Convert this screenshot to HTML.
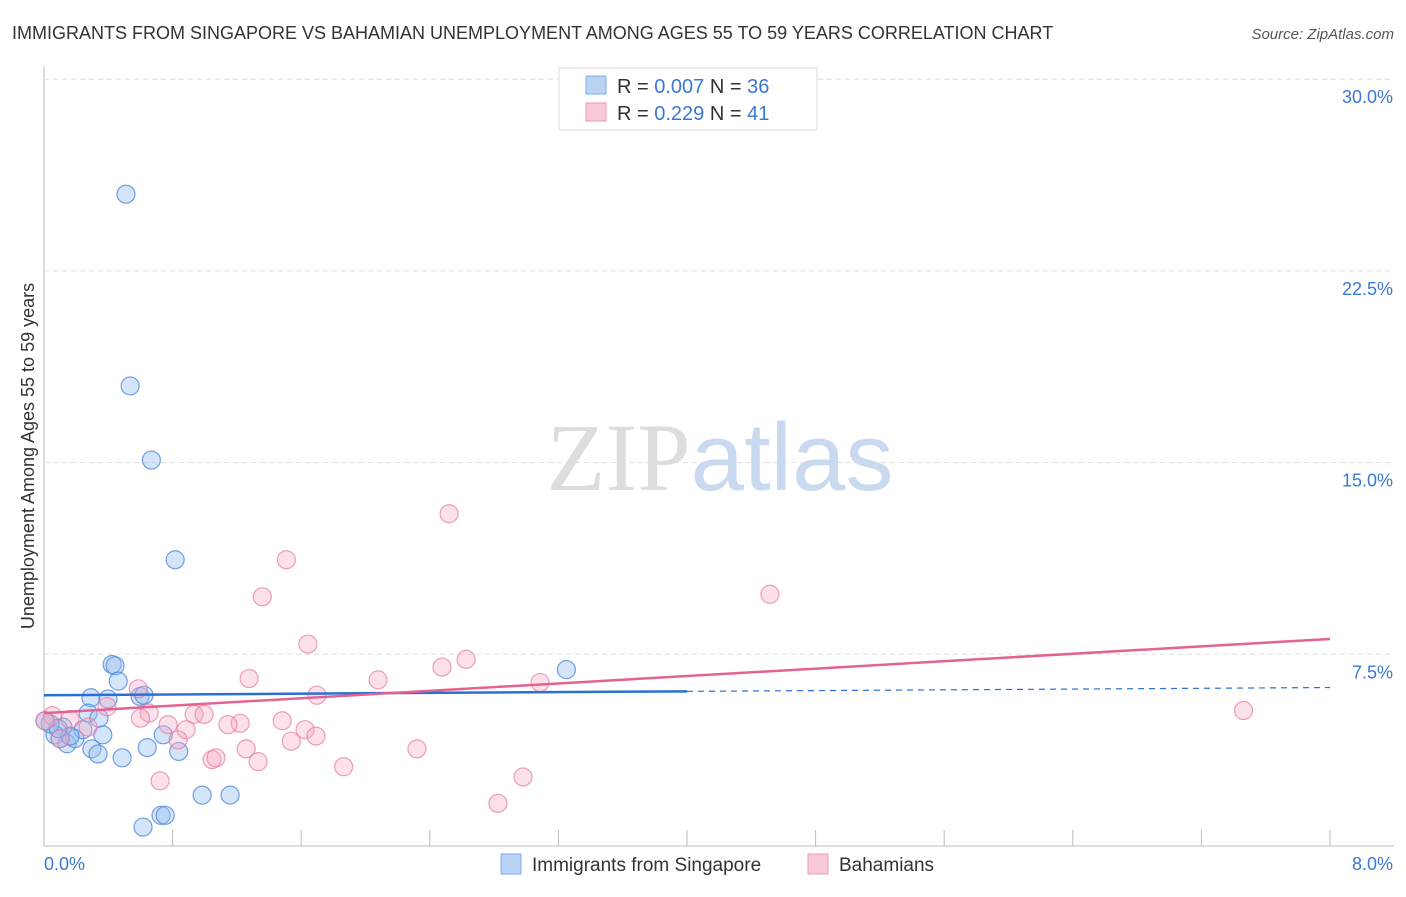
<!DOCTYPE html>
<html><head><meta charset="utf-8"><style>
body{margin:0;background:#fff;font-family:"Liberation Sans",sans-serif;}
svg text{font-family:"Liberation Sans",sans-serif;}
</style></head><body>
<svg id="chart" width="1406" height="892" xmlns="http://www.w3.org/2000/svg">
<text x="12" y="39" font-size="18" fill="#333">IMMIGRANTS FROM SINGAPORE VS BAHAMIAN UNEMPLOYMENT AMONG AGES 55 TO 59 YEARS CORRELATION CHART</text>
<text x="1394" y="39" font-size="15" fill="#555" text-anchor="end" font-style="italic">Source: ZipAtlas.com</text>
<g id="grid"></g>
<text x="720" y="490" font-size="96" text-anchor="middle"><tspan fill="#ddd" font-family="Liberation Serif">ZIP</tspan><tspan fill="#c9d9f0">atlas</tspan></text>
<g id="marks"></g>
<text transform="translate(34,456) rotate(-90)" font-size="18" fill="#333" text-anchor="middle">Unemployment Among Ages 55 to 59 years</text>
<g>
<rect x="559" y="68" width="258" height="62" fill="#fff" stroke="#ddd"/>
<rect x="586" y="76" width="20" height="18" fill="#b8d3f5" stroke="#7eaee8"/>
<text x="617" y="93" font-size="20" fill="#333">R = <tspan fill="#3b78d4">0.007</tspan>   N = <tspan fill="#3b78d4">36</tspan></text>
<rect x="586" y="103" width="20" height="18" fill="#f9c9d7" stroke="#ef9ab5"/>
<text x="617" y="120" font-size="20" fill="#333">R =  <tspan fill="#3b78d4">0.229</tspan>   N =  <tspan fill="#3b78d4">41</tspan></text>
</g>
<g>
<rect x="501" y="854" width="20" height="20" fill="#b8d3f5" stroke="#7eaee8"/>
<text x="532" y="871" font-size="19" fill="#333">Immigrants from Singapore</text>
<rect x="808" y="854" width="20" height="20" fill="#f9c9d7" stroke="#ef9ab5"/>
<text x="839" y="871" font-size="19" fill="#333">Bahamians</text>
</g>
</svg>
<script>
const xTickLabels=["0.0%","8.0%"];
const yTicks=[7.5,15,22.5,30];
const yTickLabels=["7.5%","15.0%","22.5%","30.0%"];
const singX=[2.55,2.68,3.34,4.08,2.12,2.21,16.25,2.31,1.46,2.99,3.11,1.99,1.37,1.71,0.59,0.34,0.19,0.72,0.96,1.49,1.68,2.43,1.83,3.21,3.71,4.19,3.08,3.64,3.77,4.92,5.79,1.21,0.5,0.03,0.81,0.44];
const singY=[25.5,18.0,15.1,11.2,7.1,7.05,6.9,6.45,5.8,5.85,5.9,5.75,5.2,5.0,4.65,4.35,4.78,4.0,4.2,3.8,3.6,3.45,4.35,3.85,4.35,3.7,0.74,1.2,1.2,1.99,1.99,4.55,4.2,4.9,4.3,4.6];
const bahX=[12.6,7.54,6.79,22.58,8.21,13.13,12.38,6.38,10.39,15.43,8.49,37.31,2.93,1.96,3.27,4.67,4.98,6.1,5.72,3.86,7.41,8.12,8.46,4.42,3.0,4.17,6.29,5.23,5.35,6.66,7.69,11.6,9.32,14.9,14.12,3.61,0.26,1.37,0.5,0.03,0.81];
const bahY=[13.0,11.2,9.75,9.85,7.9,7.3,7.0,6.55,6.5,6.4,5.9,5.3,6.15,5.45,5.2,5.15,5.15,4.8,4.75,4.75,4.9,4.55,4.3,4.55,5.0,4.15,3.8,3.38,3.45,3.3,4.1,3.8,3.1,2.7,1.67,2.55,5.1,4.65,4.2,4.9,4.95];
const singTrend=[0.0,5.9,20.0,6.05,40.0,6.2];
const bahTrend=[0.0,5.2,40.0,8.1];
const X0=44,X1=1330,Y0=846,YPER=191.7/7.5;
function sx(v){return X0+(v/40)*(X1-X0);}
function sy(v){return Y0-v*YPER;}
const NS="http://www.w3.org/2000/svg";
const grid=document.getElementById('grid'),marks=document.getElementById('marks');
function mk(tag,attrs,parent){const e=document.createElementNS(NS,tag);for(const k in attrs)e.setAttribute(k,attrs[k]);parent.appendChild(e);return e;}
const ya=mk('line',{x1:X0,y1:67,x2:X0,y2:846,stroke:'#bbb'},grid);


const xa=mk('line',{x1:X0,y1:846,x2:1394,y2:846,stroke:'#bbb'},grid);


for(let i=1;i<=10;i++){const x=X0+i*(X1-X0)/10;const t=mk('line',{x1:x,y1:830,x2:x,y2:846,stroke:'#bbb'},grid);

}
yTicks.forEach((v,i)=>{const y=sy(v);const g=mk('line',{x1:X0,y1:y,x2:1394,y2:y,stroke:'#ddd','stroke-dasharray':'5,4'},grid);


const t=mk('text',{x:1393,y:y+24,'font-size':18,fill:'#3b78d4','text-anchor':'end'},grid);t.textContent=yTickLabels[i];

});
const xl0=mk('text',{x:44,y:870,'font-size':18,fill:'#3b78d4'},grid);xl0.textContent=xTickLabels[0];


const xl1=mk('text',{x:1393,y:870,'font-size':18,fill:'#3b78d4','text-anchor':'end'},grid);xl1.textContent=xTickLabels[1];


singX.forEach((v,i)=>{const c=mk('circle',{cx:sx(v),cy:sy(singY[i]),r:9,fill:'rgba(150,190,240,0.4)',stroke:'rgba(70,130,220,0.75)','stroke-width':1.2},marks);

});
bahX.forEach((v,i)=>{const c=mk('circle',{cx:sx(v),cy:sy(bahY[i]),r:9,fill:'rgba(245,170,195,0.35)',stroke:'rgba(230,120,160,0.7)','stroke-width':1.2},marks);

});
const bl=mk('line',{x1:sx(singTrend[0]),y1:sy(singTrend[1]),x2:sx(singTrend[2]),y2:sy(singTrend[3]),stroke:'#2b6fd6','stroke-width':2.5},marks);


const bd=mk('line',{x1:sx(singTrend[2]),y1:sy(singTrend[3]),x2:sx(singTrend[4]),y2:sy(singTrend[5]),stroke:'#2b6fd6','stroke-width':1.2,'stroke-dasharray':'6,5'},marks);


const pl=mk('line',{x1:sx(bahTrend[0]),y1:sy(bahTrend[1]),x2:sx(bahTrend[2]),y2:sy(bahTrend[3]),stroke:'#e4628f','stroke-width':2.5},marks);


</script>
</body></html>
